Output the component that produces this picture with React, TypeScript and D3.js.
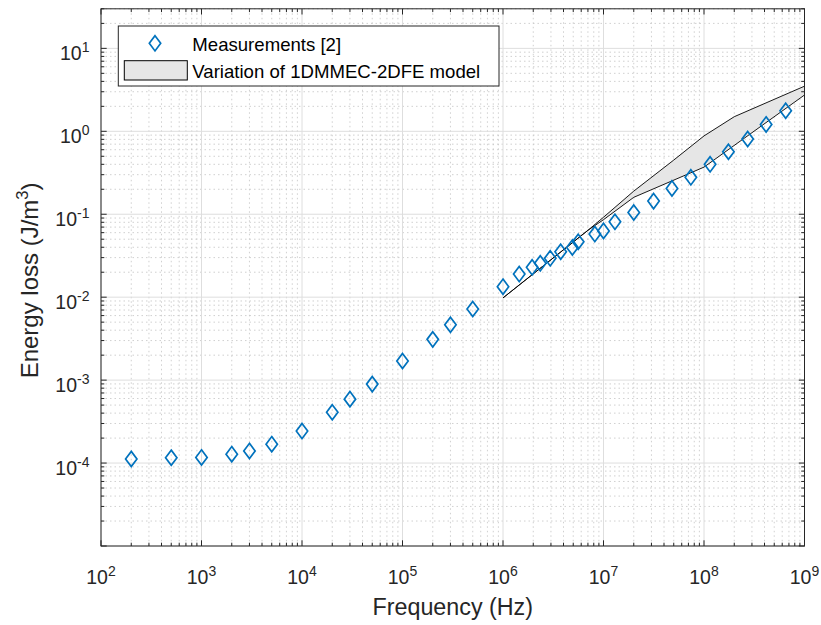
import React from "react";
import * as d3 from "d3";

const freq = [200, 500, 1e3, 2e3, 3e3, 5e3, 1e4, 2e4, 3e4, 5e4, 1e5, 2e5, 3e5, 5e5, 1e6, 1.45e6, 1.95e6, 2.35e6, 2.95e6, 3.75e6, 4.9e6, 5.6e6, 8.2e6, 1e7, 1.3e7, 2e7, 3.15e7, 4.8e7, 7.4e7, 1.15e8, 1.75e8, 2.72e8, 4.15e8, 6.5e8];
const loss = [1.12e-4, 1.16e-4, 1.17e-4, 1.28e-4, 1.4e-4, 1.69e-4, 2.43e-4, 4.1e-4, 5.9e-4, 8.95e-4, 1.7e-3, 3.1e-3, 4.65e-3, 7.2e-3, 1.34e-2, 1.9e-2, 2.29e-2, 2.56e-2, 2.94e-2, 3.53e-2, 3.98e-2, 4.66e-2, 5.77e-2, 6.3e-2, 8.1e-2, 0.105, 0.144, 0.205, 0.279, 0.4, 0.567, 0.807, 1.21, 1.77];

const upperFreq = [1e6, 7e6, 1e7, 2e7, 5e7, 1e8, 2e8, 1e9];
const upperLoss = [0.0098, 0.064, 0.092, 0.19, 0.45, 0.88, 1.5, 3.5];
const lowerFreq = [1e6, 7e6, 1e7, 2e7, 1e8, 1e9];
const lowerLoss = [0.0098, 0.064, 0.086, 0.16, 0.37, 2.74];

const xTickExp = [2, 3, 4, 5, 6, 7, 8, 9];
const yTickExp = [-4, -3, -2, -1, 0, 1];

const legendLabels = ["Measurements [2]", "Variation of 1DMMEC-2DFE model"];
const xLabel = "Frequency (Hz)";
const yLabelMain = "Energy loss (J/m";
const yLabelSup = "3";

const W = 821, H = 625;
const L = 101, R = 804.5, T = 8.8, B = 546;
const FONT = "'Liberation Sans', Arial, Helvetica, sans-serif";
const AX = "#262626";
const BLUE = "#0072BD";

export default function App() {
  const x = d3.scaleLog().domain([1e2, 1e9]).range([L, R]);
  const y = d3.scaleLog().domain([1e-5, 30]).range([B, T]);

  const xMinor: number[] = [];
  for (let e = 2; e < 9; e++) for (let k = 2; k <= 9; k++) xMinor.push(k * Math.pow(10, e));
  const yMinor: number[] = [];
  for (let e = -5; e <= 1; e++) for (let k = 2; k <= 9; k++) { const v = k * Math.pow(10, e); if (v <= 30) yMinor.push(v); }
  const xMajor = [2, 3, 4, 5, 6, 7, 8, 9].map((e) => Math.pow(10, e));
  const yMajor = [-5, -4, -3, -2, -1, 0, 1].map((e) => Math.pow(10, e));

  const lineGen = d3.line<[number, number]>().x((d) => x(d[0])).y((d) => y(d[1]));
  const upperPts: [number, number][] = upperFreq.map((f, i) => [f, upperLoss[i]]);
  const lowerPts: [number, number][] = lowerFreq.map((f, i) => [f, lowerLoss[i]]);
  const bandPts = [...upperPts, ...lowerPts.slice().reverse()];

  const diamond = (cx: number, cy: number) => `M${cx},${cy - 7.6}L${cx + 5.7},${cy}L${cx},${cy + 7.6}L${cx - 5.7},${cy}Z`;

  return (
    <svg width={W} height={H} style={{ position: "absolute", left: 0, top: 0, background: "#fff" }} fontFamily={FONT}>
      <rect x={0} y={0} width={W} height={H} fill="#fff" />
      <g stroke="#c4c4c4" strokeWidth={0.8} strokeDasharray="1.5,3">
        {xMinor.map((v, i) => <line key={"xm" + i} x1={x(v)} x2={x(v)} y1={T} y2={B} />)}
        {yMinor.map((v, i) => <line key={"ym" + i} x1={L} x2={R} y1={y(v)} y2={y(v)} />)}
      </g>
      <g stroke="#dedede" strokeWidth={1}>
        {xMajor.map((v, i) => <line key={"xM" + i} x1={x(v)} x2={x(v)} y1={T} y2={B} />)}
        {yMajor.map((v, i) => <line key={"yM" + i} x1={L} x2={R} y1={y(v)} y2={y(v)} />)}
      </g>
      <path d={lineGen(bandPts) + "Z"} fill="#e6e6e6" stroke="none" />
      <path d={lineGen(upperPts) || ""} fill="none" stroke="#000" strokeWidth={0.9} />
      <path d={lineGen(lowerPts) || ""} fill="none" stroke="#000" strokeWidth={0.9} />
      <g fill="none" stroke={BLUE} strokeWidth={1.7}>
        {freq.map((f, i) => <path key={"d" + i} d={diamond(x(f), y(loss[i]))} />)}
      </g>
      <g stroke={AX} strokeWidth={1}>
        {xMajor.map((v, i) => (
          <g key={"xt" + i}>
            <line x1={x(v)} x2={x(v)} y1={B} y2={B - 5.7} />
            <line x1={x(v)} x2={x(v)} y1={T} y2={T + 5.7} />
          </g>
        ))}
        {xMinor.map((v, i) => (
          <g key={"xmt" + i}>
            <line x1={x(v)} x2={x(v)} y1={B} y2={B - 3.3} />
            <line x1={x(v)} x2={x(v)} y1={T} y2={T + 3.3} />
          </g>
        ))}
        {yMajor.map((v, i) => (
          <g key={"yt" + i}>
            <line x1={L} x2={L + 5.7} y1={y(v)} y2={y(v)} />
            <line x1={R} x2={R - 5.7} y1={y(v)} y2={y(v)} />
          </g>
        ))}
        {yMinor.map((v, i) => (
          <g key={"ymt" + i}>
            <line x1={L} x2={L + 3.3} y1={y(v)} y2={y(v)} />
            <line x1={R} x2={R - 3.3} y1={y(v)} y2={y(v)} />
          </g>
        ))}
      </g>
      <rect x={L} y={T} width={R - L} height={B - T} fill="none" stroke={AX} strokeWidth={1} />
      <g fill={AX} fontSize={19.5}>
        {xTickExp.map((e) => (
          <text key={"xl" + e} x={x(Math.pow(10, e))} y={584} textAnchor="middle">
            <tspan>10</tspan>
            <tspan dy={-8.5} fontSize={14}>{String(e)}</tspan>
          </text>
        ))}
        {yTickExp.map((e) => (
          <text key={"yl" + e} x={89.5} y={y(Math.pow(10, e)) + 12} textAnchor="end">
            <tspan>10</tspan>
            <tspan dy={-8.5} fontSize={14}>{String(e)}</tspan>
          </text>
        ))}
      </g>
      <text x={(L + R) / 2} y={614.5} textAnchor="middle" fontSize={23.3} fill={AX}>{xLabel}</text>
      <text transform={`translate(38,${(T + B) / 2 + 3}) rotate(-90)`} textAnchor="middle" fontSize={24} fill={AX}>
        <tspan>{yLabelMain}</tspan>
        <tspan dy={-10} fontSize={16.5}>{yLabelSup}</tspan>
        <tspan dy={10}>)</tspan>
      </text>
      <rect x={118.3} y={26} width={380.7} height={60} fill="#fff" stroke={AX} strokeWidth={1} />
      <path d={diamond(155, 43.3)} fill="none" stroke={BLUE} strokeWidth={1.7} />
      <rect x={124.3} y={60.7} width={63} height={19.3} fill="#e6e6e6" stroke="#000" strokeWidth={1} />
      <text x={192.3} y={50.7} fontSize={18.6} fill="#000">{legendLabels[0]}</text>
      <text x={192.3} y={77.7} fontSize={18.6} fill="#000">{legendLabels[1]}</text>
    </svg>
  );
}
